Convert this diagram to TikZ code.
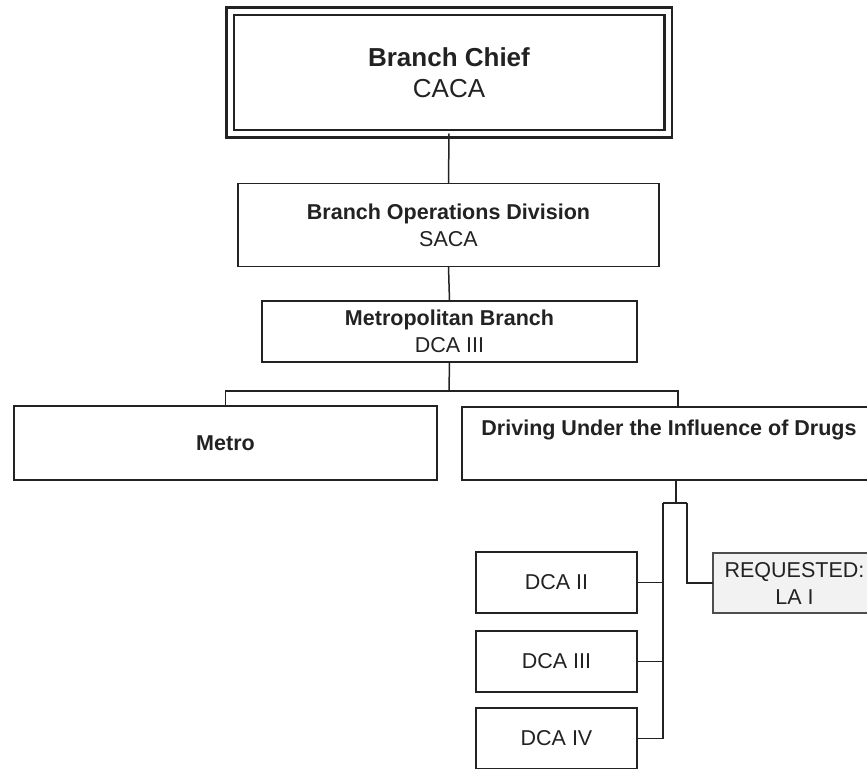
\documentclass[tikz,border=0pt]{standalone}
\usepackage{fontspec}
\setmainfont{Liberation Sans}
\definecolor{ink}{HTML}{222222}
\definecolor{reqfill}{HTML}{F2F2F2}
\begin{document}
\begin{tikzpicture}[x=1pt,y=-1pt,
  box/.style={draw=ink, line width=1.5pt, rectangle, inner sep=0pt, outer sep=0pt, text=ink, align=center},
  txt/.style={font=\fontsize{21.5}{27}\selectfont},
  link/.style={draw=ink, line width=1.5pt}
]
\useasboundingbox (0,0) rectangle (867,768);
\clip (0,0) rectangle (867,768);
\fill[white] (0,0) rectangle (867,768);

% Branch Chief (double frame)
\node[box, line width=2.5pt, double=white, double distance=5pt,
      minimum width=438pt, minimum height=122pt,
      font=\fontsize{26}{31}\selectfont] (chief) at (449,72.5)
      {\textbf{Branch Chief}\\CACA};

\node[box, txt, minimum width=421pt, minimum height=83pt] (bod) at (448.5,225)
      {\textbf{Branch Operations Division}\\SACA};

\node[box, txt, minimum width=375pt, minimum height=61pt] (mb) at (449.5,331.5)
      {\textbf{Metropolitan Branch}\\DCA III};

\node[box, txt, minimum width=423pt, minimum height=74pt] (metro) at (225.5,443)
      {\textbf{Metro}};

\node[box, minimum width=432pt, minimum height=73pt] (duid) at (678,443.5) {};
\node[txt, text=ink, anchor=center] (duidtxt) at (669,430)
      {\textbf{Driving Under the Influence of Drugs}};

\node[box, txt, minimum width=161pt, minimum height=61pt] (dca2) at (556.5,582.5) {DCA II};
\node[box, txt, minimum width=161pt, minimum height=61pt] (dca3) at (556.5,661.5) {DCA III};
\node[box, txt, minimum width=161pt, minimum height=61pt] (dca4) at (556.5,738.5) {DCA IV};

\node[box, txt, draw=ink!80, fill=reqfill, minimum width=163pt, minimum height=60pt] (req) at (794.5,583)
      {REQUESTED:\\LA I};

% connectors
\coordinate (bus) at (449,391);
\coordinate (j1) at (676,503);
\coordinate (lb) at (663,503);
\coordinate (rb) at (687,503);

\draw[link] (chief.south) -- (bod.north);
\draw[link] (bod.south) -- (mb.north);
\draw[link] (mb.south) -- (bus);
\draw[link] (metro.north) -- (metro.north |- bus) -- (duid.north |- bus) -- (duid.north);
\draw[link] (duid.south -| j1) -- (j1);
\draw[link] (lb) -- (rb);
\draw[link] (lb) |- (dca4.east);
\draw[link] (dca2.east) -- (dca2.east -| lb);
\draw[link] (dca3.east) -- (dca3.east -| lb);
\draw[link] (rb) |- (req.west);
\end{tikzpicture}
\end{document}
